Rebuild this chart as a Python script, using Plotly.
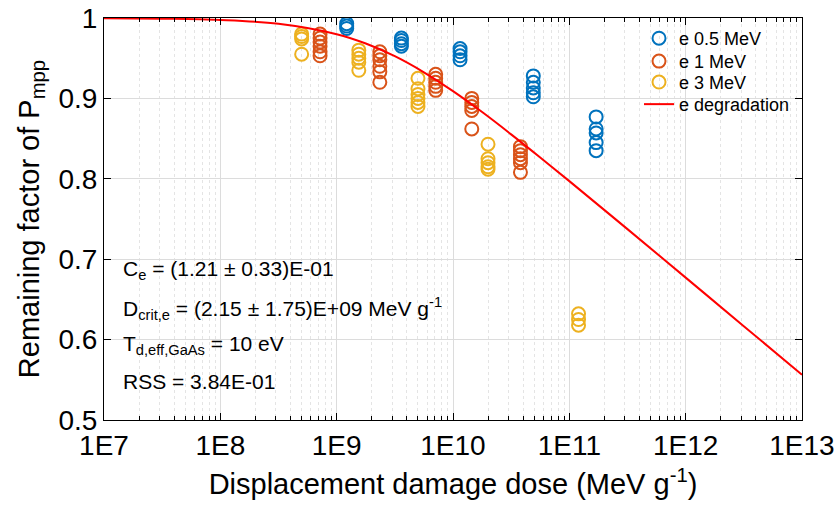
import plotly.graph_objects as go

# Measured remaining factor of P_mpp versus displacement damage dose
dose_05 = [1.22e9] * 3 + [3.6e9] * 4 + [1.15e10] * 4 + [4.9e10] * 5 + [1.7e11] * 5
pmpp_05 = [0.993, 0.990, 0.987,
           0.975, 0.972, 0.968, 0.965,
           0.962, 0.958, 0.953, 0.948,
           0.928, 0.920, 0.913, 0.907, 0.902,
           0.877, 0.862, 0.857, 0.845, 0.835]

dose_1 = [7.2e8] * 6 + [2.35e9] * 6 + [7.1e9] * 5 + [1.45e10] * 5 + [3.8e10] * 6
pmpp_1 = [0.980, 0.975, 0.970, 0.965, 0.958, 0.953,
          0.958, 0.953, 0.948, 0.940, 0.933, 0.920,
          0.930, 0.925, 0.920, 0.915, 0.910,
          0.900, 0.895, 0.890, 0.885, 0.862,
          0.840, 0.835, 0.830, 0.825, 0.820, 0.808]

dose_3 = [5.0e8] * 4 + [1.55e9] * 5 + [5.0e9] * 6 + [2.0e10] * 5 + [1.2e11] * 3
pmpp_3 = [0.980, 0.977, 0.974, 0.955,
          0.960, 0.955, 0.950, 0.945, 0.935,
          0.925, 0.912, 0.905, 0.900, 0.895, 0.890,
          0.843, 0.825, 0.820, 0.815, 0.812,
          0.632, 0.625, 0.618]

# Fitted degradation curve
fit_dose = [1e7, 3.16e7, 1e8, 3.16e8, 1e9, 1.78e9, 3.16e9, 5.62e9, 1e10,
            1.78e10, 3.16e10, 5.62e10, 1e11, 3.16e11, 1e12, 3.16e12, 1e13]
fit_pmpp = [0.9998, 0.9992, 0.9976, 0.9928, 0.9799, 0.9683, 0.9525, 0.9325, 0.9090,
            0.8830, 0.8553, 0.8265, 0.7971, 0.7374, 0.6771, 0.6167, 0.5562]

x_tick_vals = [1e7, 1e8, 1e9, 1e10, 1e11, 1e12, 1e13]
x_tick_text = ["1E7", "1E8", "1E9", "1E10", "1E11", "1E12", "1E13"]
y_tick_vals = [0.5, 0.6, 0.7, 0.8, 0.9, 1.0]
y_tick_text = ["0.5", "0.6", "0.7", "0.8", "0.9", "1"]

FONT = "Liberation Sans, Arial, sans-serif"
BLUE, ORANGE, YELLOW, RED = "#0072BD", "#D95319", "#EDB120", "#FF0000"

fig = go.Figure()


def add_points(x, y, color, name, legend):
    fig.add_trace(go.Scatter(
        x=x, y=y, mode="markers", name=name, legend=legend,
        marker=dict(symbol="circle-open", size=13, color=color,
                    line=dict(width=2, color=color)),
    ))


add_points(dose_05, pmpp_05, BLUE, "e 0.5 MeV", "legend")
add_points(dose_1, pmpp_1, ORANGE, "e 1 MeV", "legend2")
add_points(dose_3, pmpp_3, YELLOW, "e 3 MeV", "legend3")
fig.add_trace(go.Scatter(x=fit_dose, y=fit_pmpp, mode="lines", name="e degradation",
                         legend="legend4",
                         line=dict(color=RED, width=2, shape="spline")))

minor_vals = [k * 10 ** e for e in range(7, 13) for k in range(2, 10)]

fig.update_xaxes(
    type="log", range=[7, 13], automargin=False,
    tickvals=x_tick_vals, ticktext=x_tick_text, ticklabeloverflow="allow",
    ticks="inside", ticklen=7, tickcolor="black", tickwidth=1,
    showline=True, linecolor="black", linewidth=1, mirror="ticks",
    showgrid=True, gridcolor="#dcdcdc", gridwidth=1,
    minor=dict(tickvals=minor_vals, ticks="inside", ticklen=4, tickcolor="black",
               showgrid=True, gridcolor="#e4e4e4", griddash="dot", gridwidth=1),
    zeroline=False,
    tickfont=dict(family=FONT, size=28, color="black"),
    title=dict(text="Displacement damage dose (MeV g<sup>-1</sup>)",
               font=dict(family=FONT, size=29, color="black"), standoff=14),
)
fig.update_yaxes(
    range=[0.5, 1.0], automargin=False,
    tickvals=y_tick_vals, ticktext=y_tick_text, ticklabeloverflow="allow",
    ticks="inside", ticklen=7, tickcolor="black", tickwidth=1,
    showline=True, linecolor="black", linewidth=1, mirror="ticks",
    showgrid=True, gridcolor="#dcdcdc", gridwidth=1,
    zeroline=False,
    tickfont=dict(family=FONT, size=28, color="black"),
    title=dict(text="Remaining factor of P<sub>mpp</sub>",
               font=dict(family=FONT, size=29, color="black"), standoff=10),
)

notes = [
    ("C<sub>e</sub> = (1.21 ± 0.33)E-01", 0.6866),
    ("D<sub>crit,e</sub> = (2.15 ± 1.75)E+09 MeV g<sup>-1</sup>", 0.6393),
    ("T<sub>d,eff,GaAs</sub> = 10 eV", 0.5933),
    ("RSS = 3.84E-01", 0.5485),
]
for text, yv in notes:
    fig.add_annotation(
        x=0.024, xref="paper", y=yv, yref="y", text=text, showarrow=False,
        xanchor="left", yanchor="middle",
        font=dict(family=FONT, size=21, color="black"),
    )

# One legend box per entry so the rows sit tightly stacked
legend_style = dict(x=0.7665, xanchor="left", yanchor="top",
                    bgcolor="rgba(0,0,0,0)",
                    font=dict(family=FONT, size=18, color="black"),
                    itemwidth=30)

fig.update_layout(
    width=837, height=509,
    margin=dict(l=104, r=35, t=18, b=89, autoexpand=False),
    paper_bgcolor="white", plot_bgcolor="white",
    legend=dict(y=0.995, **legend_style),
    legend2=dict(y=0.938, **legend_style),
    legend3=dict(y=0.886, **legend_style),
    legend4=dict(y=0.831, **legend_style),
    showlegend=True,
)

fig.write_html("out.html")
